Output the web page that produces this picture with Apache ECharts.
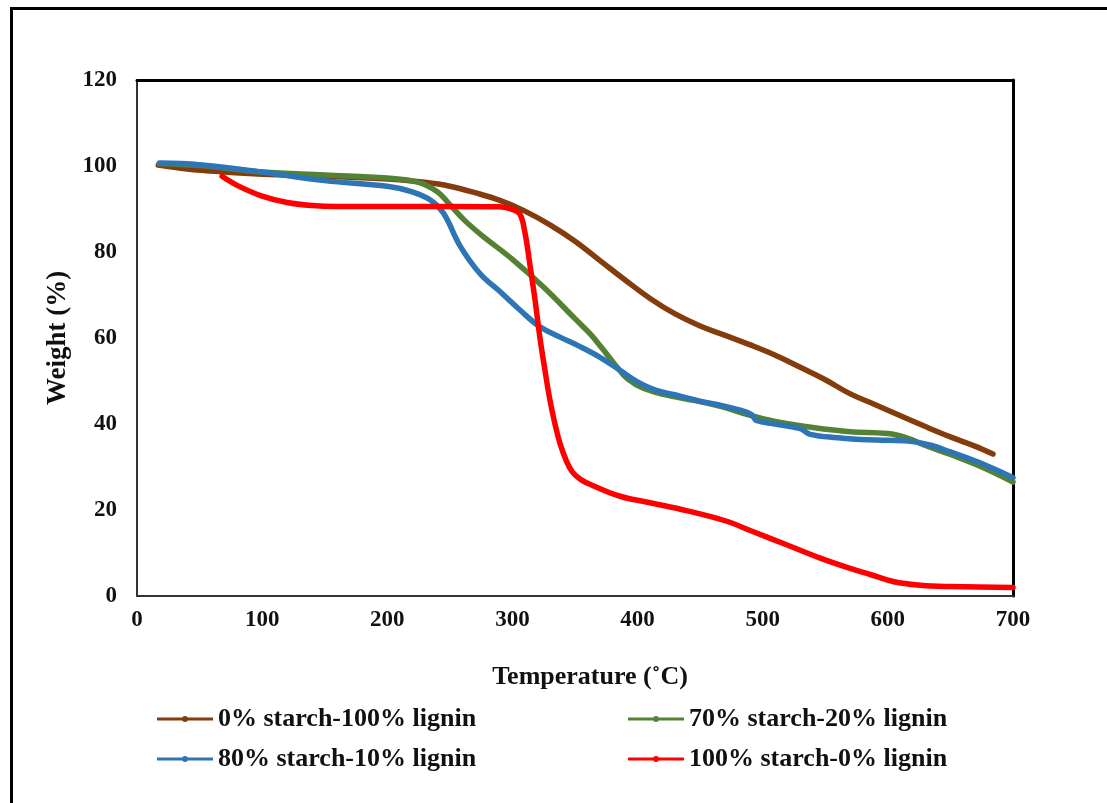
<!DOCTYPE html>
<html>
<head>
<meta charset="utf-8">
<script src="https://cdn.jsdelivr.net/npm/echarts@6/dist/echarts.min.js"></script>
<style>
html,body{margin:0;padding:0;background:#fff;}
#chart{width:1107px;height:803px;}
</style>
</head>
<body>
<div id="chart"></div>
<script>
// ---- Data ----
const seriesNames = ["0% starch-100% lignin", "70% starch-20% lignin", "80% starch-10% lignin", "100% starch-0% lignin"];

const brownTemp = [17, 40, 70, 100, 150, 200, 230, 250, 270, 290, 310, 330, 350, 370, 390, 410, 430, 450, 470, 490, 510, 530, 550, 570, 590, 610, 630, 650, 670, 684];
const brownWeight = [100.2, 99.3, 98.6, 98.1, 97.6, 97.0, 96.2, 95.3, 93.8, 92.0, 89.5, 86.3, 82.5, 78.0, 73.5, 69.2, 65.6, 62.8, 60.6, 58.4, 56.0, 53.2, 50.3, 47.0, 44.5, 41.9, 39.4, 37.0, 34.8, 33.0];

const greenTemp = [18, 50, 100, 150, 200, 225, 240, 250, 262, 275, 300, 325, 350, 362, 372, 382, 392, 405, 430, 450, 470, 490, 510, 540, 570, 600, 615, 630, 650, 675, 700];
const greenWeight = [100.5, 100.1, 98.6, 97.9, 97.2, 96.2, 94.0, 91.0, 87.3, 84.0, 78.3, 71.8, 64.5, 61.0, 57.5, 53.8, 50.5, 48.3, 46.3, 45.2, 43.8, 42.0, 40.6, 39.2, 38.2, 37.8, 36.8, 35.0, 32.9, 30.0, 26.5];

const blueTemp = [18, 50, 100, 150, 200, 220, 235, 245, 258, 274, 290, 306, 322, 338, 354, 370, 386, 400, 415, 434, 450, 466, 482, 491, 495, 510, 530, 538, 560, 578, 600, 620, 635, 650, 670, 690, 700];
const blueWeight = [100.7, 100.3, 98.6, 96.6, 95.3, 94.0, 92.0, 89.0, 81.5, 75.0, 70.8, 66.5, 62.6, 60.2, 58.0, 55.5, 52.5, 49.8, 47.8, 46.5, 45.3, 44.4, 43.2, 42.2, 40.8, 40.0, 38.9, 37.6, 36.8, 36.4, 36.2, 35.9, 35.0, 33.5, 31.4, 28.9, 27.5];

const redTemp = [68, 80, 100, 120, 140, 160, 200, 250, 290, 300, 306, 310, 314, 318, 322, 326, 330, 334, 338, 343, 348, 355, 365, 386, 410, 440, 470, 492, 520, 546, 570, 586, 605, 626, 650, 700];
const redWeight = [97.6, 95.5, 93.0, 91.5, 90.8, 90.6, 90.6, 90.6, 90.5, 89.9, 88.8, 84.5, 77.0, 69.0, 60.0, 52.5, 45.5, 40.0, 35.5, 31.5, 28.8, 27.0, 25.6, 23.2, 21.7, 19.8, 17.5, 15.0, 11.8, 8.8, 6.4, 5.0, 3.3, 2.5, 2.2, 2.0];

const seriesColors = ["#843C0C", "#548235", "#2E75B6", "#FF0000"];
const xTicks = [0, 100, 200, 300, 400, 500, 600, 700];
const yTicks = [0, 20, 40, 60, 80, 100, 120];

function pairs(t, w) { return t.map((v, i) => [v, w[i]]); }
const allData = [pairs(brownTemp, brownWeight), pairs(greenTemp, greenWeight), pairs(blueTemp, blueWeight), pairs(redTemp, redWeight)];

const FONT = "'Liberation Serif', 'Times New Roman', serif";

const chart = echarts.init(document.getElementById('chart'), null, {renderer: 'canvas'});

const legendPos = [
  {left: 157, top: 706},
  {left: 628, top: 706},
  {left: 157, top: 746},
  {left: 628, top: 746}
];
// line-with-dot legend icon (Excel style)
const legendIcon = 'path://M0,1.5H56V4.5H0Z M25,3A3,3 0 1,1 31,3A3,3 0 1,1 25,3Z';

const option = {
  animation: false,
  backgroundColor: '#fff',
  grid: {left: 137, right: 94, top: 80, bottom: 207, containLabel: false},
  legend: seriesNames.map((n, i) => ({
    data: [{name: n, icon: legendIcon}],
    left: legendPos[i].left,
    top: legendPos[i].top,
    padding: 0,
    itemWidth: 56,
    itemHeight: 6,
    textStyle: {fontFamily: FONT, fontWeight: 'bold', fontSize: 26, color: '#111'}
  })),
  xAxis: [{
    type: 'value',
    min: xTicks[0], max: xTicks[xTicks.length - 1], interval: 100,
    name: 'Temperature (˚C)',
    nameLocation: 'middle',
    nameGap: 68,
    nameTextStyle: {fontFamily: FONT, fontWeight: 'bold', fontSize: 26, color: '#111', padding: [0, 0, 0, 30]},
    axisLine: {show: true, lineStyle: {color: '#333', width: 2}},
    axisTick: {show: false},
    splitLine: {show: false},
    axisLabel: {fontFamily: FONT, fontWeight: 'bold', fontSize: 23, color: '#111', margin: 13}
  }, {
    type: 'value', position: 'top',
    min: xTicks[0], max: xTicks[xTicks.length - 1],
    axisLine: {show: true, onZero: false, lineStyle: {color: '#000', width: 3}},
    axisTick: {show: false}, axisLabel: {show: false}, splitLine: {show: false}
  }],
  yAxis: [{
    type: 'value',
    min: yTicks[0], max: yTicks[yTicks.length - 1], interval: 20,
    name: 'Weight (%)',
    nameLocation: 'middle',
    nameGap: 65,
    nameRotate: 90,
    nameTextStyle: {fontFamily: FONT, fontWeight: 'bold', fontSize: 27, color: '#111'},
    axisLine: {show: true, lineStyle: {color: '#333', width: 2}},
    axisTick: {show: false},
    splitLine: {show: false},
    axisLabel: {fontFamily: FONT, fontWeight: 'bold', fontSize: 23, color: '#111', margin: 20}
  }, {
    type: 'value', position: 'right',
    min: yTicks[0], max: yTicks[yTicks.length - 1],
    axisLine: {show: true, onZero: false, lineStyle: {color: '#000', width: 3}},
    axisTick: {show: false}, axisLabel: {show: false}, splitLine: {show: false}
  }],
  graphic: [{
    type: 'rect',
    shape: {x: 11.5, y: 8.5, width: 1300, height: 1000},
    style: {fill: 'none', stroke: '#000', lineWidth: 3},
    silent: true, z: 100
  }],
  series: allData.map((d, i) => ({
    name: seriesNames[i],
    type: 'line',
    data: d,
    smooth: 0.4,
    symbol: 'circle',
    symbolSize: 6,
    showSymbol: false,
    color: seriesColors[i],
    lineStyle: {width: 5.5, color: seriesColors[i], cap: 'round', join: 'round'},
    itemStyle: {color: seriesColors[i]},
    z: 2 + i
  }))
};

chart.setOption(option);
</script>
</body>
</html>
